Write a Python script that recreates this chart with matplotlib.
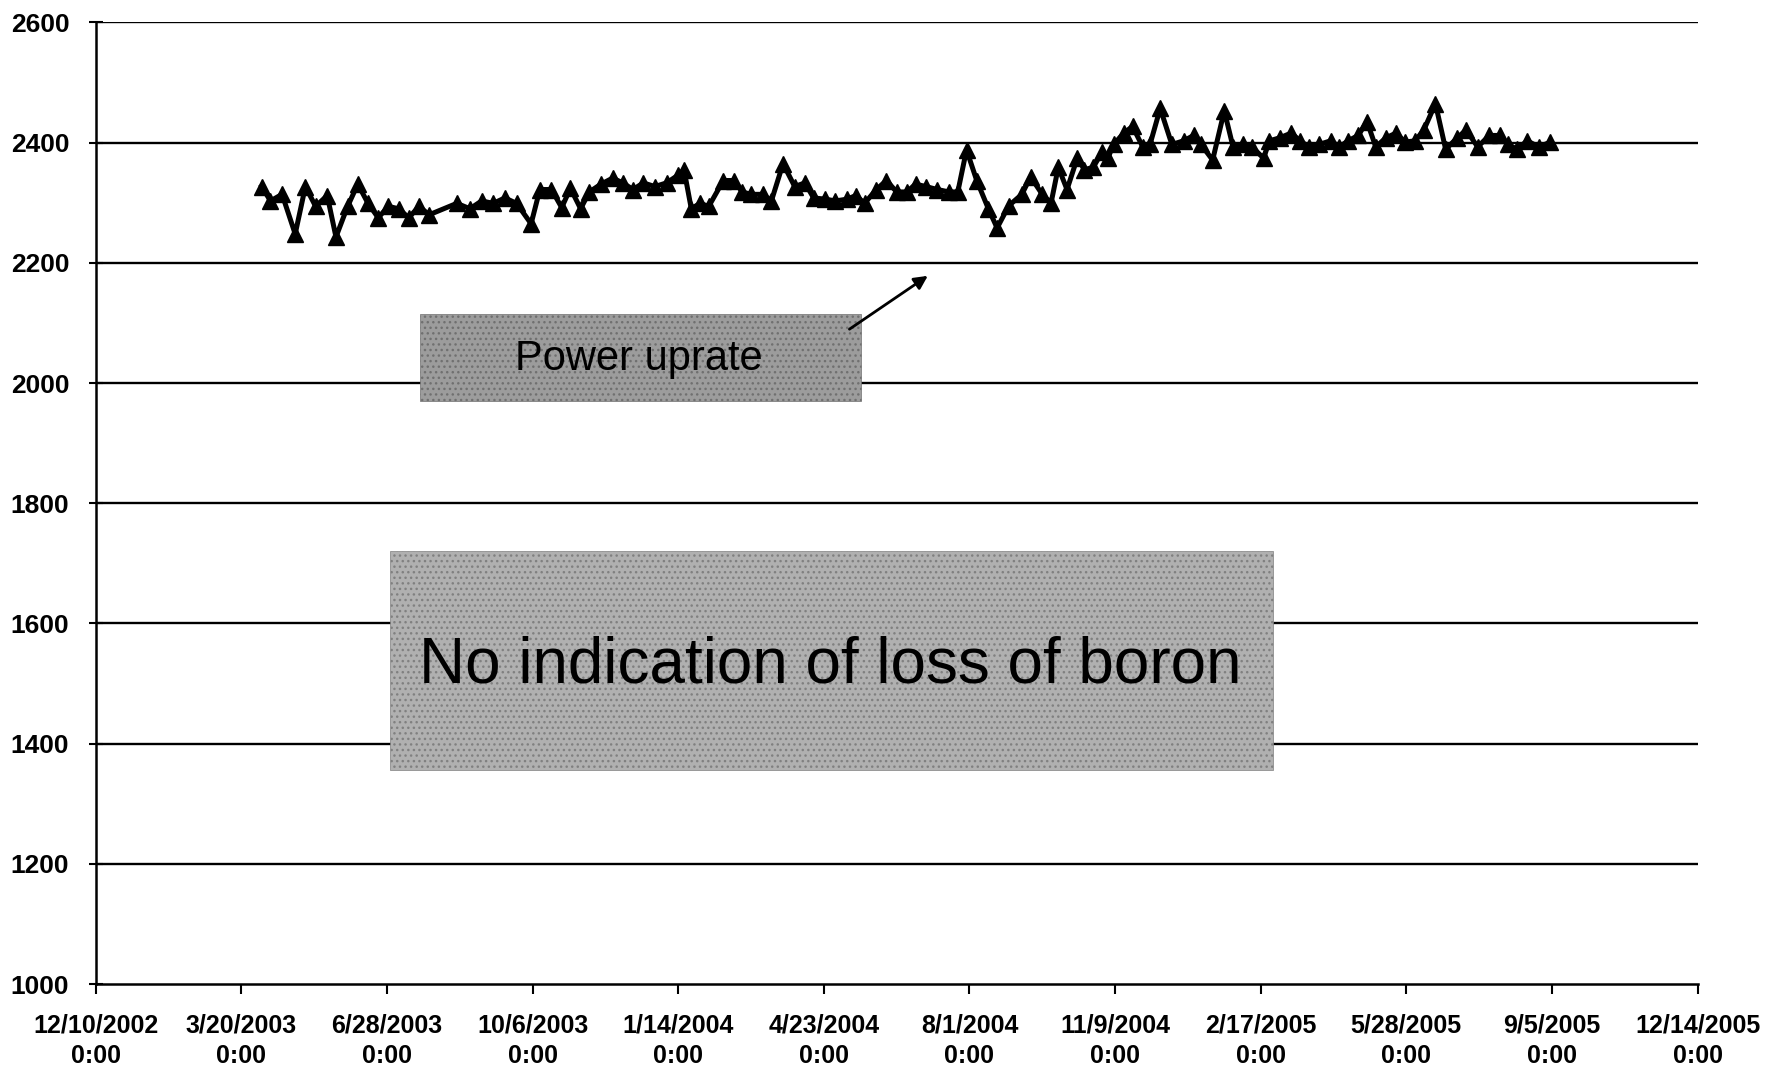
import matplotlib
matplotlib.use("Agg")
import matplotlib.pyplot as plt
import matplotlib.dates as mdates
import pandas as pd
from matplotlib.patches import Rectangle

start_date = pd.Timestamp("2002-12-10")
end_date = pd.Timestamp("2005-12-14")

day_offsets = [114, 120, 128, 137, 144, 151, 159, 165, 173, 180, 187, 194, 201, 208, 215, 222, 229,
               248, 257, 265, 273, 281, 289, 299, 305, 313, 320, 326, 333, 339, 347, 355, 362, 369,
               376, 384, 392, 400, 404, 409, 415, 421, 431, 438, 444, 450, 458, 464, 472, 480, 487,
               493, 501, 508, 516, 522, 528, 536, 543, 550, 557, 563, 570, 578, 586, 592, 598, 605,
               613, 619, 627, 636, 642, 650, 656, 661, 667, 674, 679, 685, 691, 695, 699, 706, 712,
               719, 724, 731, 739, 747, 754, 759, 767, 775, 781, 788, 794, 802, 806, 813, 821, 827,
               833, 840, 848, 854, 860, 867, 873, 879, 886, 893, 899, 906, 912, 920, 927, 935, 941,
               949, 957, 964, 970, 976, 983, 991, 999]
values = [2327, 2303, 2314, 2248, 2327, 2294, 2312, 2243, 2294, 2331, 2299, 2275, 2294, 2290, 2275,
          2294, 2280, 2299, 2290, 2303, 2299, 2308, 2299, 2265, 2322, 2322, 2292, 2324, 2290, 2318,
          2331, 2341, 2333, 2322, 2333, 2327, 2333, 2346, 2355, 2290, 2299, 2294, 2337, 2337, 2318,
          2314, 2314, 2303, 2365, 2327, 2333, 2308, 2306, 2303, 2306, 2312, 2299, 2322, 2337, 2318,
          2318, 2331, 2327, 2322, 2318, 2318, 2388, 2337, 2290, 2258, 2295, 2314, 2343, 2314, 2299,
          2359, 2322, 2374, 2355, 2359, 2384, 2374, 2397, 2416, 2427, 2393, 2397, 2457, 2397, 2403,
          2412, 2397, 2371, 2453, 2393, 2397, 2393, 2374, 2403, 2408, 2416, 2403, 2393, 2397, 2403,
          2393, 2403, 2412, 2435, 2393, 2408, 2416, 2401, 2403, 2421, 2465, 2389, 2408, 2421, 2393,
          2412, 2412, 2397, 2389, 2403, 2393, 2401]

tick_offsets = [0, 100, 200, 300, 400, 500, 600, 700, 800, 900, 1000, 1100]
y_ticks = [1000, 1200, 1400, 1600, 1800, 2000, 2200, 2400, 2600]

note_small = "Power uprate"
note_big = "No indication of loss of boron"

dates = [start_date + pd.Timedelta(days=d) for d in day_offsets]
tick_dates = [start_date + pd.Timedelta(days=d) for d in tick_offsets]
tick_labels = [f"{d.month}/{d.day}/{d.year}\n0:00" for d in tick_dates]

plt.rcParams['font.family'] = ['Liberation Sans', 'DejaVu Sans']

fig = plt.figure(figsize=(17.72, 10.69), dpi=100)
ax = fig.add_axes([0.054, 0.0795, 0.904, 0.8995])

for yv in y_ticks[1:]:
    ax.axhline(yv, color='black', lw=1.7, zorder=1)

ax.plot(dates, values, color='black', lw=3.6, marker='^', markersize=11, zorder=3)

ax.set_xlim(start_date, end_date)
ax.set_ylim(1000, 2600)
ax.set_xticks(tick_dates)
ax.set_xticklabels(tick_labels, fontsize=18, fontweight='bold', linespacing=1.35)
ax.set_yticks(y_ticks)
ax.set_yticklabels([str(v) for v in y_ticks], fontsize=19, fontweight='bold')
ax.tick_params(axis='x', direction='out', length=7, width=1.5, pad=14)
ax.tick_params(axis='y', direction='inout', length=10, width=1.5, pad=14)
for s in ['top', 'right']:
    ax.spines[s].set_visible(False)
for s in ['left', 'bottom']:
    ax.spines[s].set_linewidth(1.8)

def d(n):
    return mdates.date2num(start_date + pd.Timedelta(days=n))

# annotation boxes
ax.add_patch(Rectangle((d(222.7), 1970), d(525.4) - d(222.7), 145,
                       facecolor='#9c9c9c', edgecolor='#707070', hatch='...', lw=0.5, zorder=4))
ax.text(d(373), 2040, note_small, fontsize=30, ha='center', va='center', zorder=5)

ax.add_patch(Rectangle((d(201.8), 1356), d(808.7) - d(201.8), 364,
                       facecolor='#b0b0b0', edgecolor='#808080', hatch='...', lw=0.5, zorder=4))
ax.text(d(504.5), 1530, note_big, fontsize=46, ha='center', va='center', zorder=5)

ax.annotate('', xy=(d(573), 2181), xytext=(d(516), 2087),
            arrowprops=dict(arrowstyle='-|>', color='black', lw=2, mutation_scale=20), zorder=6)

fig.savefig('out.png', dpi=100)
